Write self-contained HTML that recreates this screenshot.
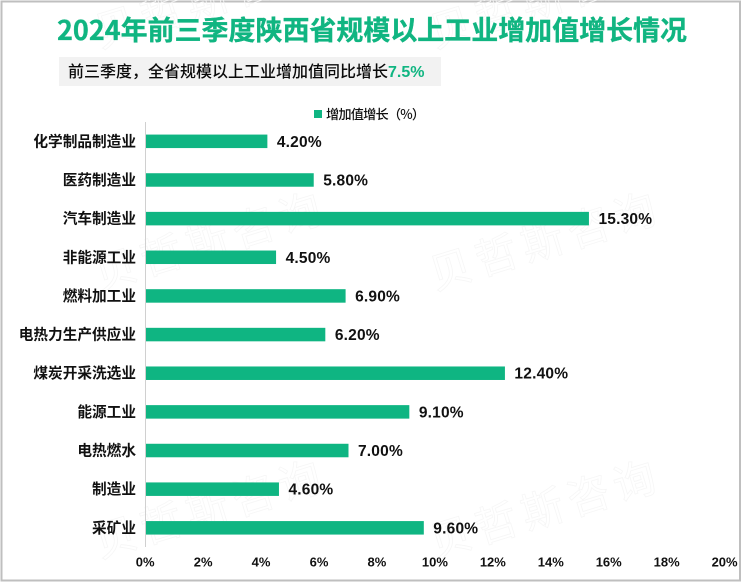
<!DOCTYPE html>
<html>
<head>
<meta charset="utf-8">
<style>
html,body{margin:0;padding:0;background:#fff;}
body{width:742px;height:584px;overflow:hidden;position:relative;}
svg{display:block;position:absolute;left:0;top:0;}
text{font-family:"Liberation Sans","Noto Sans CJK SC",sans-serif;}
.cjk{font-family:"Noto Sans CJK SC","WenQuanYi Zen Hei",sans-serif;}
</style>
</head>
<body>
<svg id="chart" width="742" height="584" viewBox="0 0 742 584">
  <rect x="1.5" y="1.5" width="738.5" height="579" fill="#ffffff" stroke="#bfbfbf" stroke-width="2"/>
  <g id="watermarks"></g>
  <text x="372" y="40" text-anchor="middle" class="cjk" font-size="27" font-weight="700" fill="#10b581" stroke="#10b581" stroke-width="0.35" textLength="630" lengthAdjust="spacingAndGlyphs">2024年前三季度陕西省规模以上工业增加值增长情况</text>
  <rect x="59" y="57" width="382" height="29" fill="#f2f2f2"/>
  <text x="68" y="77" class="cjk" font-size="16" font-weight="500" fill="#0a0a0a">前三季度，全省规模以上工业增加值同比增长<tspan fill="#10b581" font-family="Liberation Sans" font-weight="700">7.5%</tspan></text>
  <rect x="314" y="110" width="8" height="8" fill="#0fb582"/>
  <text x="326" y="119" class="cjk" font-size="13.2" font-weight="500" fill="#111111" textLength="99">增加值增长（%）</text>
  <g id="plot"></g>
</svg>
<script>
const categories = ["化学制品制造业","医药制造业","汽车制造业","非能源工业","燃料加工业","电热力生产供应业","煤炭开采洗选业","能源工业","电热燃水","制造业","采矿业"];
const growthValues = [4.2,5.8,15.3,4.5,6.9,6.2,12.4,9.1,7.0,4.6,9.6];
const valueLabels = ["4.20%","5.80%","15.30%","4.50%","6.90%","6.20%","12.40%","9.10%","7.00%","4.60%","9.60%"];
const tickValues = [0,2,4,6,8,10,12,14,16,18,20];
const tickLabels = ["0%","2%","4%","6%","8%","10%","12%","14%","16%","18%","20%"];

const NS = "http://www.w3.org/2000/svg";
const plot = document.getElementById("plot");
const x0 = 145.7, pxPerUnit = 28.97;
const top0 = 122, bandH = 38.65;
const xScale = function (v) { return x0 + v * pxPerUnit; };
const yScale = function (i) { return top0 + bandH * (i + 0.5); };
const barH = 13.5;

function make(tag, attrs, parent) {
  const el = document.createElementNS(NS, tag);
  for (const k in attrs) el.setAttribute(k, attrs[k]);
  parent.appendChild(el);
  return el;
}

categories.forEach(function (cat, i) {
  const cy = yScale(i);
  const label = make("text", {x: 136, y: cy + 5, "text-anchor": "end", "font-size": 14.67, "font-weight": 700, fill: "#111111", "class": "cjk"}, plot);
  
  
  label.textContent = cat;

  const bar = make("rect", {x: xScale(0), y: cy - barH / 2, width: xScale(growthValues[i]) - xScale(0), height: barH, fill: "#0fb582"}, plot);
  
  

  const val = make("text", {x: xScale(growthValues[i]) + 9.5, y: cy + 5.5, "font-size": 15.5, "font-weight": 700, "letter-spacing": 0.2, fill: "#111111"}, plot);
  
  
  val.textContent = valueLabels[i];
});

const axisLine = make("line", {x1: 145.5, x2: 145.5, y1: top0, y2: 547, stroke: "#d0d0d0", "stroke-width": 1}, plot);



tickValues.forEach(function (t, i) {
  const tick = make("text", {x: xScale(t) - 0.5, y: 566.5, "text-anchor": "middle", "font-size": 13, "font-weight": 700, fill: "#111111"}, plot);
  
  
  tick.textContent = tickLabels[i];
});

const wmGroup = document.getElementById("watermarks");
[[100,48],[435,48],[100,290],[435,290],[100,558],[435,558]].forEach(function (p) {
  const wm = make("text", {x: p[0], y: p[1], "font-size": 42, "letter-spacing": 6, "class": "cjk", fill: "none", stroke: "#f6f6f6", "stroke-width": 0.8, transform: "rotate(-17 " + p[0] + " " + p[1] + ")"}, wmGroup);
  
  
  wm.textContent = "贝哲斯咨询";
});
</script>
</body>
</html>
